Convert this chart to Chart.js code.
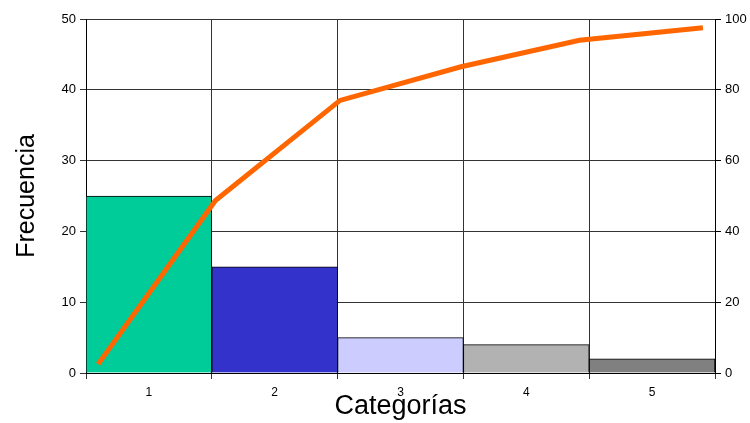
<!DOCTYPE html>
<html>
<head>
<meta charset="utf-8">
<script src="https://cdn.jsdelivr.net/npm/chart.js@4/dist/chart.umd.min.js"></script>
<style>
html, body { margin: 0; padding: 0; background: #fff; }
#wrap { width: 750px; height: 423px; }
</style>
</head>
<body>
<div id="wrap"><canvas id="myChart" width="750" height="423"></canvas></div>
<script>
/* datos */
var categorias = ['1', '2', '3', '4', '5'];
var frecuencia = [25, 15, 5, 4, 2];
var colores = ['#00CC99', '#3333CC', '#CCCCFF', '#B2B2B2', '#808080'];
var acumPos = [0, 0.97, 2, 3, 3.98, 5];
var acumulado = [2.5, 48.7, 77, 86.5, 94, 97.5];

var lineaPuntos = acumPos.map(function(p, i){ return { x: p, y: acumulado[i] }; });

/* grafico */
function createChart(){
	var ctx = document.getElementById('myChart').getContext('2d');
	var myChart = new Chart(ctx, {
		type: 'bar',
		data: {
			labels: categorias,
			datasets: [{
				type: 'line',
				data: lineaPuntos,
				xAxisID: 'x2',
				yAxisID: 'y2',
				borderColor: '#FF6600',
				borderWidth: 5,
				pointRadius: 0,
				tension: 0,
				order: 0
			}, {
				type: 'bar',
				data: frecuencia,
				xAxisID: 'x',
				yAxisID: 'y',
				backgroundColor: colores,
				borderColor: '#000',
				borderWidth: 1,
				grouped: false,
				barPercentage: 1.0,
				categoryPercentage: 1.0,
				order: 1
			}]
		},
		options: {
			responsive: false,
			animation: false,
			layout: { padding: { top: 19, left: 12, right: 0, bottom: 0 } },
			plugins: { legend: { display: false }, tooltip: { enabled: false } },
			scales: {
				x: {
					type: 'category',
					offset: true,
					grid: { offset: true, color: '#333', lineWidth: 1, drawTicks: true, tickLength: 6 },
					border: { color: '#000' },
					ticks: { color: '#000', font: { family: 'Liberation Sans', size: 12 }, padding: 6 },
					title: { display: true, text: 'Categorías', color: '#000', font: { family: 'Liberation Sans', size: 27 }, padding: { top: 2, bottom: 0 } },
					afterFit: function(s){ s.height = 50; }
				},
				x2: {
					type: 'linear',
					display: false,
					offset: false,
					min: -0.1,
					max: 5.1
				},
				y: {
					position: 'left',
					min: 0,
					max: 50,
					ticks: { stepSize: 10, color: '#000', font: { family: 'Liberation Sans', size: 13 }, padding: 4 },
					grid: { color: '#333', tickLength: 6 },
					border: { color: '#000' },
					title: { display: true, text: 'Frecuencia', color: '#000', font: { family: 'Liberation Sans', size: 25 }, padding: 0 },
					afterFit: function(s){ s.width = 74; }
				},
				y2: {
					position: 'right',
					min: 0,
					max: 100,
					ticks: { stepSize: 20, color: '#000', font: { family: 'Liberation Sans', size: 13 }, padding: 4 },
					grid: { drawOnChartArea: false, color: '#000', tickLength: 6 },
					border: { color: '#000' },
					afterFit: function(s){ s.width = 35; }
				}
			}
		}
	});
}

createChart();
</script>
</body>
</html>
